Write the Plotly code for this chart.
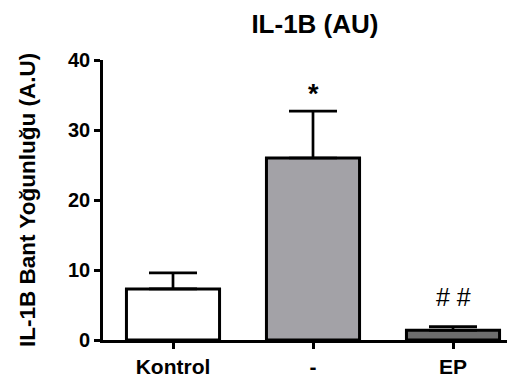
import plotly.graph_objects as go

categories = ["Kontrol", "-", "EP"]
values = [7.3, 26.0, 1.4]
errors = [2.3, 6.7, 0.5]
bar_colors = ["#ffffff", "#a3a2a7", "#6d6d6d"]
marks = ["", "*", "# #"]
y_ticks = [0, 10, 20, 30, 40]

FONT = "Liberation Sans, Arial, sans-serif"

fig = go.Figure()
fig.add_trace(go.Bar(
    x=categories, y=values, width=0.665,
    marker=dict(color=bar_colors, line=dict(color="#000000", width=3)),
    error_y=dict(type="data", array=errors, arrayminus=[0, 0, 0], symmetric=False,
                 color="#000000", thickness=2.7, width=24),
))

for c, v, e, m in zip(categories, values, errors, marks):
    if m == "*":
        fig.add_annotation(x=c, y=v + e, text="<b>*</b>", showarrow=False,
                           yanchor="bottom", yshift=0,
                           font=dict(family=FONT, size=27, color="#000"))
    elif m:
        fig.add_annotation(x=c, y=v + e, text=m, showarrow=False,
                           yanchor="bottom", yshift=14,
                           font=dict(family=FONT, size=25, color="#000"))

fig.add_annotation(xref="paper", yref="paper", x=0, y=0.5, xshift=-76,
                   xanchor="center", yanchor="middle", textangle=-90, showarrow=False,
                   text="<b>IL-1B Bant Yoğunluğu (A.U)</b>",
                   font=dict(family=FONT, size=22.5, color="#000"))

fig.update_layout(
    width=515, height=378,
    margin=dict(l=95, r=0, t=52, b=46),
    paper_bgcolor="white", plot_bgcolor="white",
    showlegend=False,
    title=dict(text="<b>IL-1B (AU)</b>", x=0.596, xanchor="center", y=0.958, yanchor="middle",
               font=dict(family=FONT, size=26, color="#000")),
    font=dict(family=FONT, color="#000"),
)
fig.update_xaxes(
    range=[-0.5, 2.5], showline=True, linecolor="#000", linewidth=2.7,
    ticks="outside", ticklen=6, tickwidth=2.7, tickcolor="#000",
    tickfont=dict(family=FONT, size=21, color="#000", weight="bold"),
    showgrid=False, zeroline=False,
)
fig.update_yaxes(
    range=[0, 40], tickvals=y_ticks, showline=True, linecolor="#000", linewidth=2.7,
    ticks="outside", ticklen=6, tickwidth=2.7, tickcolor="#000",
    tickfont=dict(family=FONT, size=20, color="#000", weight="bold"),
    showgrid=False, zeroline=False,
)

fig.write_html("out.html")
